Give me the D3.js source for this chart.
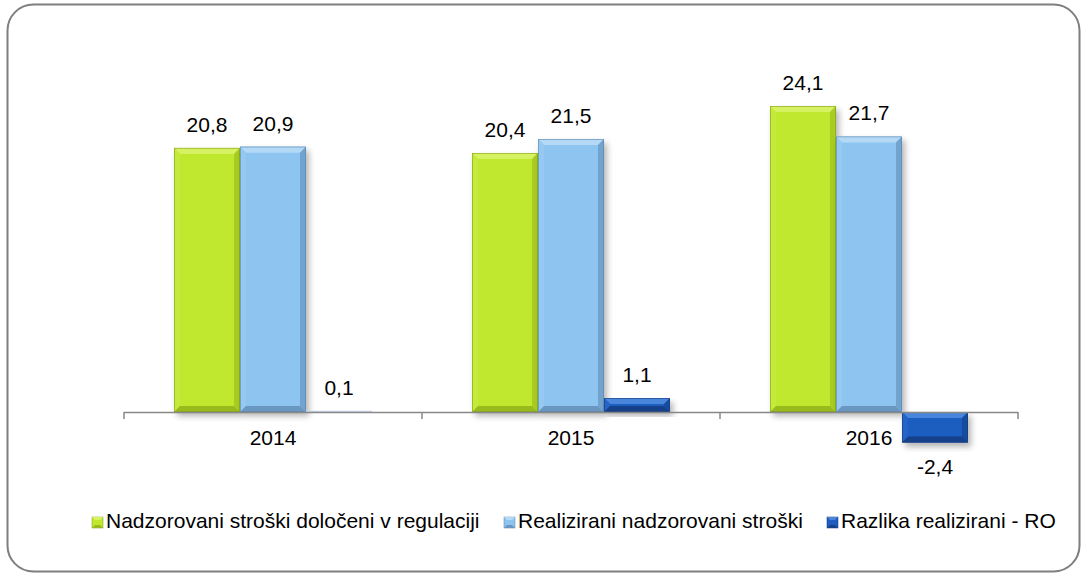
<!DOCTYPE html>
<html><head><meta charset="utf-8">
<script src="https://cdn.jsdelivr.net/npm/d3@7"></script>
<style>body{margin:0;background:#fff}svg{display:block}text{font-family:"Liberation Sans",Arial,sans-serif;fill:#000}</style>
</head><body><svg id="c" width="1088" height="577"></svg>
<script>
const categories = ["2014","2015","2016"];
const seriesNames = ["Nadzorovani stroški določeni v regulaciji","Realizirani nadzorovani stroški","Razlika realizirani - RO"];
const nadzorovani = [20.8, 20.4, 24.1];
const realizirani = [20.9, 21.5, 21.7];
const razlika = [0.1, 1.1, -2.4];
const valueLabels = [["20,8","20,4","24,1"],["20,9","21,5","21,7"],["0,1","1,1","-2,4"]];

const series = [nadzorovani, realizirani, razlika];
const palettes = [
  {main:"#bfe82e", top:"#d6f262", left:"#c4eb3a", right:"#a8cc22", bottom:"#98ba1c", edge:"#7f9a18"},
  {main:"#8ec4f0", top:"#b3d9f7", left:"#96c9f1", right:"#72a3cf", bottom:"#6a97c2", edge:"#5a82a8"},
  {main:"#1f5dc0", top:"#4a85da", left:"#2563c6", right:"#194c9e", bottom:"#15418a", edge:"#123a78"}
];
const FS = 21;

const svg = d3.select("#c");
const defs = svg.append("defs");
const f = defs.append("filter").attr("id","sh").attr("x","-20%").attr("y","-20%").attr("width","150%").attr("height","150%");
f.append("feGaussianBlur").attr("in","SourceAlpha").attr("stdDeviation",3).attr("result","b");
f.append("feOffset").attr("in","b").attr("dx",3).attr("dy",4).attr("result","o");
f.append("feComponentTransfer").attr("in","o").attr("result","o2").append("feFuncA").attr("type","linear").attr("slope",0.3);
const fm = f.append("feMerge"); fm.append("feMergeNode").attr("in","o2"); fm.append("feMergeNode").attr("in","SourceGraphic");

svg.append("rect").attr("x",7.5).attr("y",4.5).attr("width",1072).attr("height",567).attr("rx",26).attr("ry",26)
  .attr("fill","#fff").attr("stroke","#7f7f7f").attr("stroke-width",2);

const x0 = d3.scaleBand().domain(categories).range([124,1018]).paddingInner(0).paddingOuter(0);
const x1 = d3.scaleBand().domain([0,1,2]).range([0,x0.bandwidth()]).paddingInner(0).paddingOuter(0.758);
const y = d3.scaleLinear().domain([0,24.1]).range([412,106]);

function bevelBar(g, x, w, yTop, yBot, p){
  const h = yBot - yTop;
  const b = Math.max(0, Math.min(6, h/2, w/2));
  const xa = x, xb = x + w;
  const gg = g.append("g").attr("filter", h > 3 ? "url(#sh)" : null);
  gg.append("rect").attr("x",xa).attr("y",yTop).attr("width",w).attr("height",Math.max(h,0.01))
    .attr("fill", h > 3 ? p.main : "#c9d9ee");
  if (b > 0.5 && h > 3){
    const poly = pts => gg.append("polygon").attr("points",pts.map(q=>q.join(",")).join(" "));
    poly([[xa,yTop],[xb,yTop],[xb-b,yTop+b],[xa+b,yTop+b]]).attr("fill",p.top);
    poly([[xa,yTop],[xa+b,yTop+b],[xa+b,yBot-b],[xa,yBot]]).attr("fill",p.left);
    poly([[xb,yTop],[xb,yBot],[xb-b,yBot-b],[xb-b,yTop+b]]).attr("fill",p.right);
    poly([[xa,yBot],[xa+b,yBot-b],[xb-b,yBot-b],[xb,yBot]]).attr("fill",p.bottom);
    gg.append("rect").attr("x",xa+0.4).attr("y",yTop+0.4).attr("width",w-0.8).attr("height",Math.max(h-0.8,0.01))
      .attr("fill","none").attr("stroke",p.edge).attr("stroke-opacity",0.7).attr("stroke-width",0.8);
  }
}

const gBars = svg.append("g");
categories.forEach((c,ci)=>{
  series.forEach((s,si)=>{
    const v = s[ci];
    const bx = x0(c) + x1(si);
    const bw = x1.bandwidth();
    const yt = Math.min(y(v), y(0)), yb = Math.max(y(v), y(0));
    bevelBar(gBars, bx, bw, yt, yb, palettes[si]);
    const lx = bx + bw/2;
    const ly = v >= 0 ? yt - 16 : yb + 32;
    svg.append("text").attr("x",lx).attr("y",ly).attr("text-anchor","middle").attr("font-size",FS).text(valueLabels[si][ci]);
  });
});

// axis
const ax = svg.append("g");
ax.append("line").attr("x1",124).attr("x2",1018).attr("y1",y(0)+0.5).attr("y2",y(0)+0.5).attr("stroke","#888").attr("stroke-width",1.5);
const tickXs = categories.map(c=>x0(c)).concat([x0.range()[1]]);
tickXs.forEach(tx=>{
  ax.append("line").attr("x1",tx).attr("x2",tx).attr("y1",y(0)).attr("y2",y(0)+7).attr("stroke","#888").attr("stroke-width",1.5);
});
categories.forEach(c=>{
  svg.append("text").attr("x",x0(c)+x0.bandwidth()/2).attr("y",445).attr("text-anchor","middle").attr("font-size",FS).text(c);
});

// legend
const legX = [92, 504, 827];
const lg = svg.append("g");
seriesNames.forEach((n,i)=>{
  const p = palettes[i];
  const mx = legX[i], my = 517, ms = 11;
  lg.append("rect").attr("x",mx).attr("y",my).attr("width",ms).attr("height",ms).attr("fill",p.main).attr("stroke",p.edge).attr("stroke-width",0.5);
  lg.append("polygon").attr("points",`${mx},${my} ${mx+ms},${my} ${mx+ms-3},${my+3} ${mx+3},${my+3}`).attr("fill",p.top);
  lg.append("polygon").attr("points",`${mx},${my+ms} ${mx+ms},${my+ms} ${mx+ms-3},${my+ms-3} ${mx+3},${my+ms-3}`).attr("fill",p.bottom);
  lg.append("text").attr("x",mx+14).attr("y",my+11).attr("font-size",FS).text(n);
});
</script></body></html>
